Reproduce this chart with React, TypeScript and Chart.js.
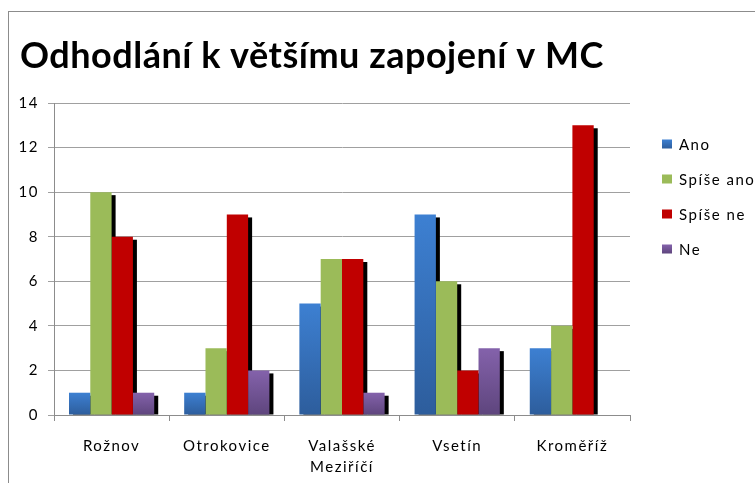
import React, { useEffect, useRef } from 'react';
import { Chart, registerables } from 'chart.js';

Chart.register(...registerables);

const chartTitle = 'Odhodlání k většímu zapojení v MC';
const categories: (string | string[])[] = ['Rožnov', 'Otrokovice', ['Valašské', 'Meziříčí'], 'Vsetín', 'Kroměříž'];
const seriesNames = ['Ano', 'Spíše ano', 'Spíše ne', 'Ne'];
const ano = [1, 1, 5, 9, 3];
const spiseAno = [10, 3, 7, 6, 4];
const spiseNe = [8, 9, 7, 2, 13];
const ne = [1, 2, 1, 3, 0];
const yMin = 0;
const yMax = 14;
const yStep = 2;

const COLORS = [
  { top: '#3d80d2', bottom: '#2d5d9c' },
  { top: '#9bbb59', bottom: '#9bbb59' },
  { top: '#c00000', bottom: '#c00000' },
  { top: '#8462ab', bottom: '#5e457d' },
];

const FONT = 'Lato, "Open Sans", sans-serif';

function gradFill(ci: number) {
  return (context: any) => {
    const c = COLORS[ci];
    if (c.top === c.bottom) return c.top;
    const chart = context.chart;
    const ys = chart.scales && chart.scales.y;
    if (!ys || context.parsed == null) return c.top;
    const v = context.parsed.y;
    const t = ys.getPixelForValue(v);
    const b = ys.getPixelForValue(0);
    if (!isFinite(t) || !isFinite(b) || Math.abs(b - t) < 0.5) return c.top;
    const g = chart.ctx.createLinearGradient(0, t, 0, b);
    g.addColorStop(0, c.top);
    g.addColorStop(1, c.bottom);
    return g;
  };
}

const shadowPlugin = {
  id: 'barShadow',
  beforeDraw(chart: any) {
    chart.ctx.letterSpacing = '1.5px';
  },
  beforeDatasetsDraw(chart: any) {
    const ctx = chart.ctx;
    const a = chart.chartArea;
    ctx.save();
    ctx.beginPath();
    ctx.rect(a.left, a.top, a.right - a.left + 10, a.bottom - a.top);
    ctx.clip();
    ctx.fillStyle = '#000';
    chart.data.datasets.forEach((_ds: any, i: number) => {
      const meta = chart.getDatasetMeta(i);
      meta.data.forEach((bar: any) => {
        const p = bar.getProps(['x', 'y', 'base', 'width'], true);
        const top = p.y + 3;
        if (p.base - top <= 0) return;
        ctx.fillRect(p.x - p.width / 2 + 4, top, p.width, p.base - top);
      });
    });
    ctx.restore();
  },
  afterDraw(chart: any) {
    const ctx = chart.ctx;
    ctx.save();
    // title
    ctx.letterSpacing = '0.5px';
    ctx.font = `bold 36px ${FONT}`;
    ctx.fillStyle = '#000';
    ctx.textBaseline = 'alphabetic';
    ctx.textAlign = 'left';
    ctx.fillText(chartTitle, 11, 56);
    // legend
    ctx.letterSpacing = '1.5px';
    ctx.font = `15px ${FONT}`;
    const x0 = 653;
    chart.data.datasets.forEach((ds: any, i: number) => {
      const cy = 132 + i * 35;
      const c = COLORS[i];
      const g = ctx.createLinearGradient(0, cy - 4.5, 0, cy + 4.5);
      g.addColorStop(0, c.top);
      g.addColorStop(1, c.bottom);
      ctx.fillStyle = g;
      ctx.fillRect(x0, cy - 4.5, 10, 9);
      ctx.fillStyle = '#000';
      ctx.fillText(ds.label, x0 + 17, cy + 5.5);
    });
    ctx.restore();
    ctx.letterSpacing = '0px';
  },
};

export default function App() {
  const ref = useRef<HTMLCanvasElement | null>(null);
  useEffect(() => {
    document.documentElement.style.overflow = 'hidden';
    document.body.style.overflow = 'hidden';
    const canvas = ref.current!;
    const values = [ano, spiseAno, spiseNe, ne];
    const chart = new Chart(canvas, {
      type: 'bar',
      data: {
        labels: categories as any,
        datasets: values.map((d, i) => ({
          label: seriesNames[i],
          data: d,
          backgroundColor: gradFill(i) as any,
          borderWidth: 0,
          categoryPercentage: 0.74,
          barPercentage: 1.0,
        })),
      },
      options: {
        responsive: false,
        animation: false,
        devicePixelRatio: 1,
        layout: { padding: { left: 0, top: 91, right: 125, bottom: 8 } },
        plugins: {
          legend: { display: false },
          title: { display: false },
          tooltip: { enabled: false },
        },
        scales: {
          x: {
            grid: {
              offset: true,
              drawOnChartArea: false,
              drawTicks: true,
              tickLength: 6,
              color: '#8c8c8c',
            },
            border: { color: '#8c8c8c', width: 1 },
            ticks: {
              color: '#000',
              font: { family: FONT, size: 15, lineHeight: 1.45 },
              padding: 14,
              maxRotation: 0,
              autoSkip: false,
            },
            afterFit: (s: any) => {
              s.height = 60;
            },
          },
          y: {
            min: yMin,
            max: yMax,
            grid: {
              color: '#a0a0a0',
              drawTicks: true,
              tickLength: 6,
            },
            border: { color: '#8c8c8c', width: 1 },
            ticks: {
              stepSize: yStep,
              color: '#000',
              font: { family: FONT, size: 15 },
              padding: 9,
            },
            afterFit: (s: any) => {
              s.width = 45;
            },
          },
        },
      },
      plugins: [shadowPlugin],
    });
    return () => chart.destroy();
  }, []);
  return (
    <div
      style={{
        position: 'absolute',
        left: 8,
        top: 11,
        width: 747,
        height: 472,
        borderLeft: '1px solid #8c8c8c',
        borderTop: '1px solid #8c8c8c',
        overflow: 'hidden',
        background: '#fff',
      }}
    >
      <canvas ref={ref} width={746} height={471} style={{ display: 'block', width: 746, height: 471 }} />
    </div>
  );
}
